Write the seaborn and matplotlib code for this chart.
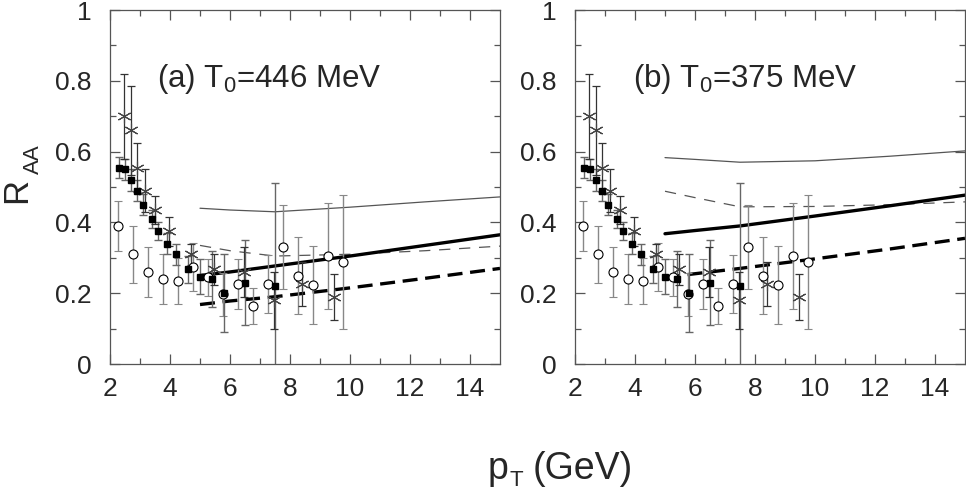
import numpy as np
import matplotlib
matplotlib.use("Agg")
import matplotlib.pyplot as plt
import seaborn as sns

# measured points (same in both panels)
sq_x = [2.3, 2.5, 2.7, 2.9, 3.1, 3.4, 3.6, 3.9, 4.2, 4.6, 5.0, 5.4, 5.8, 6.5, 7.5]
sq_y = [0.555, 0.55, 0.52, 0.49, 0.45, 0.41, 0.375, 0.34, 0.31, 0.267, 0.247, 0.24, 0.2, 0.23, 0.22]
sq_err = [0.03, 0.03, 0.03, 0.03, 0.03, 0.025, 0.025, 0.03, 0.03, 0.037, 0.05, 0.08, 0.11, 0.12, 0.29]

oc_x = [2.25, 2.75, 3.25, 3.75, 4.25, 4.75, 5.25, 5.75, 6.25, 6.75, 7.25, 7.75, 8.25, 8.75, 9.25, 9.75]
oc_y = [0.39, 0.31, 0.26, 0.24, 0.235, 0.275, 0.245, 0.197, 0.226, 0.164, 0.226, 0.33, 0.25, 0.224, 0.306, 0.288]
oc_err = [0.07, 0.08, 0.07, 0.07, 0.065, 0.068, 0.053, 0.06, 0.07, 0.051, 0.082, 0.118, 0.11, 0.11, 0.15, 0.19]

st_x = [2.45, 2.7, 2.9, 3.15, 3.5, 3.95, 4.7, 5.45, 6.45, 7.45, 8.4, 9.45]
st_y = [0.70, 0.66, 0.555, 0.49, 0.435, 0.375, 0.31, 0.267, 0.26, 0.18, 0.225, 0.19]
st_err = [0.12, 0.125, 0.07, 0.06, 0.04, 0.041, 0.03, 0.045, 0.07, 0.08, 0.062, 0.065]

# theory curves
th_x = [5, 6, 7.5, 10, 12.5, 15]
a_thin_solid = [0.44, 0.435, 0.43, 0.443, 0.458, 0.472]
a_thin_dash = [0.335, 0.32, 0.305, 0.31, 0.32, 0.333]
a_thick_solid = [0.25, 0.26, 0.277, 0.305, 0.335, 0.365]
a_thick_dash = [0.168, 0.178, 0.19, 0.215, 0.242, 0.27]
b_thin_solid = [0.583, 0.578, 0.57, 0.574, 0.587, 0.602]
b_thin_dash = [0.488, 0.47, 0.444, 0.445, 0.45, 0.458]
b_thick_solid = [0.368, 0.377, 0.39, 0.418, 0.447, 0.477]
b_thick_dash = [0.245, 0.255, 0.27, 0.297, 0.325, 0.355]

panels = [
    ("(a) T$_0$=446 MeV", 3.57, a_thin_solid, a_thin_dash, a_thick_solid, a_thick_dash),
    ("(b) T$_0$=375 MeV", 3.93, b_thin_solid, b_thin_dash, b_thick_solid, b_thick_dash),
]

sns.set_theme(style="ticks")
plt.rcParams["font.family"] = ["Liberation Sans", "DejaVu Sans"]
plt.rcParams["mathtext.fontset"] = "custom"
plt.rcParams["mathtext.rm"] = "Liberation Sans"
plt.rcParams["mathtext.it"] = "Liberation Sans"

fig = plt.figure(figsize=(9.66, 4.91), dpi=100)
lefts = [110 / 966, 575 / 966]
axes = [fig.add_axes([l, 127 / 491, 390 / 966, 354 / 491]) for l in lefts]

for ax, (label, tx, ts, td, ks, kd) in zip(axes, panels):
    sns.lineplot(x=th_x, y=ts, ax=ax, color="#555555", linewidth=0.9)
    sns.lineplot(x=th_x, y=td, ax=ax, color="#555555", linewidth=0.9)
    ax.lines[-1].set_dashes([9, 7])
    sns.lineplot(x=th_x, y=ks, ax=ax, color="black", linewidth=2.4)
    sns.lineplot(x=th_x, y=kd, ax=ax, color="black", linewidth=2.4)
    ax.lines[-1].set_dashes([4.5, 2.3])

    ax.errorbar(oc_x, oc_y, yerr=oc_err, fmt="o", ms=6.5, mfc="white", mec="black",
                mew=0.8, ecolor="#888888", elinewidth=1.0, capsize=3, capthick=1.0)
    ax.errorbar(sq_x, sq_y, yerr=sq_err, fmt="s", ms=5, mfc="black", mec="black",
                ecolor="#666666", elinewidth=1.0, capsize=3, capthick=1.0)
    ax.errorbar(st_x, st_y, yerr=st_err, fmt="none", ecolor="#333333",
                elinewidth=0.9, capsize=3, capthick=0.9)
    ax.plot(st_x, st_y, linestyle="none", marker=(6, 2, 0), ms=10, mew=0.8,
            color="#444444")

    ax.text(tx, 0.783, label, fontsize=22.5, ha="left", va="baseline")

    ax.set_xlim(2, 15)
    ax.set_ylim(0, 1)
    ax.set_xticks([2, 4, 6, 8, 10, 12, 14])
    ax.set_xticks(np.arange(3, 15, 2), minor=True)
    ax.set_yticks([0, 0.2, 0.4, 0.6, 0.8, 1])
    ax.set_yticklabels(["0", "0.2", "0.4", "0.6", "0.8", "1"])
    ax.set_yticks([0.1, 0.3, 0.5, 0.7, 0.9], minor=True)
    ax.tick_params(which="both", direction="in", top=True, right=True,
                   color="#555555", width=0.9, labelsize=19)
    ax.tick_params(which="major", length=7)
    ax.tick_params(which="minor", length=4)
    ax.tick_params(axis="y", pad=13)
    ax.tick_params(axis="x", pad=9)
    for sp in ax.spines.values():
        sp.set_visible(True)
        sp.set_color("#555555")
        sp.set_linewidth(0.9)
    ax.set_xlabel("")
    ax.set_ylabel("")

fig.text(0.0176, 0.613, "R", rotation=90, fontsize=25, ha="center", va="center")
fig.text(0.035, 0.676, "AA", rotation=90, fontsize=16, ha="center", va="center")
fig.text(0.505, 0.025, "p", fontsize=27, ha="left", va="baseline")
fig.text(0.527, 0.01, "T", fontsize=16, ha="left", va="baseline")
fig.text(0.551, 0.025, "(GeV)", fontsize=27, ha="left", va="baseline")

fig.savefig("out.png", dpi=100)
